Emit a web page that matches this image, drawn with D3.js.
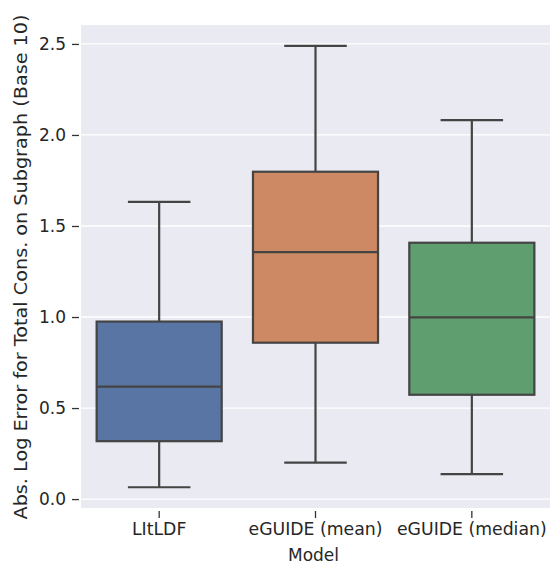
<!DOCTYPE html>
<html><head><meta charset="utf-8">
<script src="https://cdn.jsdelivr.net/npm/d3@7"></script>
<style>body{margin:0;background:#fff;} text{font-family:"DejaVu Sans",sans-serif;}</style>
</head><body>
<svg id="chart" width="553" height="565"></svg>
<script>
const categories = ["LItLDF", "eGUIDE (mean)", "eGUIDE (median)"];
const whiskerLow = [0.065, 0.20, 0.137];
const q1 = [0.318, 0.859, 0.573];
const medians = [0.618, 1.357, 0.998];
const q3 = [0.975, 1.798, 1.408];
const whiskerHigh = [1.632, 2.489, 2.082];
const colors = ["#5875a4", "#cc8963", "#5f9e6e"];
const yTicks = [0.0, 0.5, 1.0, 1.5, 2.0, 2.5];

const svg = d3.select("#chart");
const m = {left: 81, right: 3, top: 25, bottom: 57};
const W = 553, H = 565;
const x = d3.scaleBand().domain(categories).range([m.left, W - m.right]).paddingInner(0).paddingOuter(0);
const y = d3.scaleLinear().domain([-0.049, 2.604]).range([H - m.bottom, m.top]);

svg.append("rect").attr("x", m.left).attr("y", m.top)
  .attr("width", W - m.right - m.left).attr("height", H - m.bottom - m.top).attr("fill", "#eaeaf2");

// grid
svg.append("g").selectAll("line").data(yTicks).join("line")
  .attr("x1", m.left).attr("x2", W - m.right)
  .attr("y1", d => y(d)).attr("y2", d => y(d))
  .attr("stroke", "#fff").attr("stroke-width", 1.3);

// y axis
const yAxis = d3.axisLeft(y).tickValues(yTicks).tickFormat(d3.format(".1f")).tickSizeInner(7).tickSizeOuter(0).tickPadding(6);
const gy = svg.append("g").attr("transform", `translate(${m.left - 2},0)`).call(yAxis);
gy.select(".domain").remove();
gy.selectAll(".tick line").attr("stroke", "#333").attr("stroke-width", 1.3);
gy.selectAll(".tick text").attr("fill", "#262626").style("font-size", "17px").style("font-family", "DejaVu Sans");

// x axis
const xAxis = d3.axisBottom(x).tickSizeInner(7).tickSizeOuter(0).tickPadding(5);
const gx = svg.append("g").attr("transform", `translate(0,${H - m.bottom + 3})`).call(xAxis);
gx.select(".domain").remove();
gx.selectAll(".tick line").attr("stroke", "#333").attr("stroke-width", 1.3);
gx.selectAll(".tick text").attr("fill", "#262626").style("font-size", "17.3px").style("font-family", "DejaVu Sans");

// labels
svg.append("text").attr("x", (m.left + W - m.right) / 2 - 2).attr("y", 561)
  .attr("text-anchor", "middle").attr("fill", "#262626").style("font-size", "17px").text("Model");
svg.append("text").attr("transform", `translate(27,267) rotate(-90)`)
  .attr("text-anchor", "middle").attr("fill", "#262626").style("font-size", "17.5px")
  .attr("textLength", 505).attr("lengthAdjust", "spacingAndGlyphs")
  .text("Abs. Log Error for Total Cons. on Subgraph (Base 10)");

// boxes
const lc = "#444444", lw = 2.2;
const bw = x.bandwidth() * 0.8;
const g = svg.append("g");
categories.forEach((c, i) => {
  const cx = x(c) + x.bandwidth() / 2;
  const gg = g.append("g");
  gg.append("line").attr("x1", cx).attr("x2", cx).attr("y1", y(whiskerLow[i])).attr("y2", y(q1[i])).attr("stroke", lc).attr("stroke-width", lw);
  gg.append("line").attr("x1", cx).attr("x2", cx).attr("y1", y(q3[i])).attr("y2", y(whiskerHigh[i])).attr("stroke", lc).attr("stroke-width", lw);
  gg.append("line").attr("x1", cx - bw / 4).attr("x2", cx + bw / 4).attr("y1", y(whiskerLow[i])).attr("y2", y(whiskerLow[i])).attr("stroke", lc).attr("stroke-width", lw);
  gg.append("line").attr("x1", cx - bw / 4).attr("x2", cx + bw / 4).attr("y1", y(whiskerHigh[i])).attr("y2", y(whiskerHigh[i])).attr("stroke", lc).attr("stroke-width", lw);
  gg.append("rect").attr("x", cx - bw / 2).attr("width", bw).attr("y", y(q3[i])).attr("height", y(q1[i]) - y(q3[i]))
    .attr("fill", colors[i]).attr("stroke", lc).attr("stroke-width", lw);
  gg.append("line").attr("x1", cx - bw / 2).attr("x2", cx + bw / 2).attr("y1", y(medians[i])).attr("y2", y(medians[i])).attr("stroke", lc).attr("stroke-width", lw);
});
</script>
</body></html>
